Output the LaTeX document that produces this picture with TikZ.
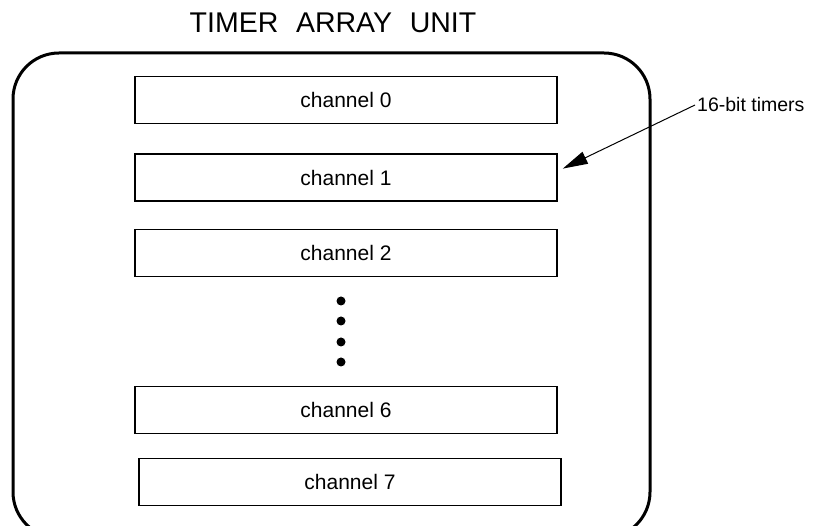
\documentclass[tikz,border=0pt]{standalone}
\usepackage{fontspec}
\setmainfont{Liberation Sans}
\usetikzlibrary{arrows.meta,positioning}

\begin{document}
\begin{tikzpicture}[
    x=1pt, y=-1pt,
    node distance=27pt,
    chan/.style={draw, line width=1.6pt, minimum width=422pt, minimum height=47pt, inner sep=0pt, font=\fontsize{21}{24}\selectfont},
    unit/.style={draw, line width=3pt, rounded corners=46pt},
    dot/.style={circle, fill, inner sep=0pt, minimum size=9pt},
    lbl/.style={font=\fontsize{19.5}{22}\selectfont, inner sep=2pt},
    ptr/.style={-{Triangle[length=25pt,width=13pt]}, line width=1pt}
]
\useasboundingbox (0,0) rectangle (815,526);

% title and the unit outline
\node[font=\fontsize{28.5}{32}\selectfont] (title) at (333,23) {TIMER\hspace{.62em}ARRAY\hspace{.62em}UNIT};
\draw[unit] (13,53) rectangle (650,538);

% timer channels
\node[chan] (ch0) at (346,100) {channel 0};
\node[chan, below=29pt of ch0] (ch1) {channel 1};
\node[chan, below=27pt of ch1] (ch2) {channel 2};
\node[chan] (ch6) at (346,410) {channel 6};
\node[chan] (ch7) at (350,482) {channel 7};

% ellipsis between channel 2 and channel 6
\node[dot] (d1) at (341,301) {};
\node[dot] (d2) at (341,321) {};
\node[dot] (d3) at (341,342) {};
\node[dot] (d4) at (341,362) {};

% callout
\node[lbl, anchor=west] (timers) at (695,105) {16-bit timers};
\draw[ptr] (timers.west) -- ([shift={(5pt,9pt)}]ch1.east);
\end{tikzpicture}
\end{document}
